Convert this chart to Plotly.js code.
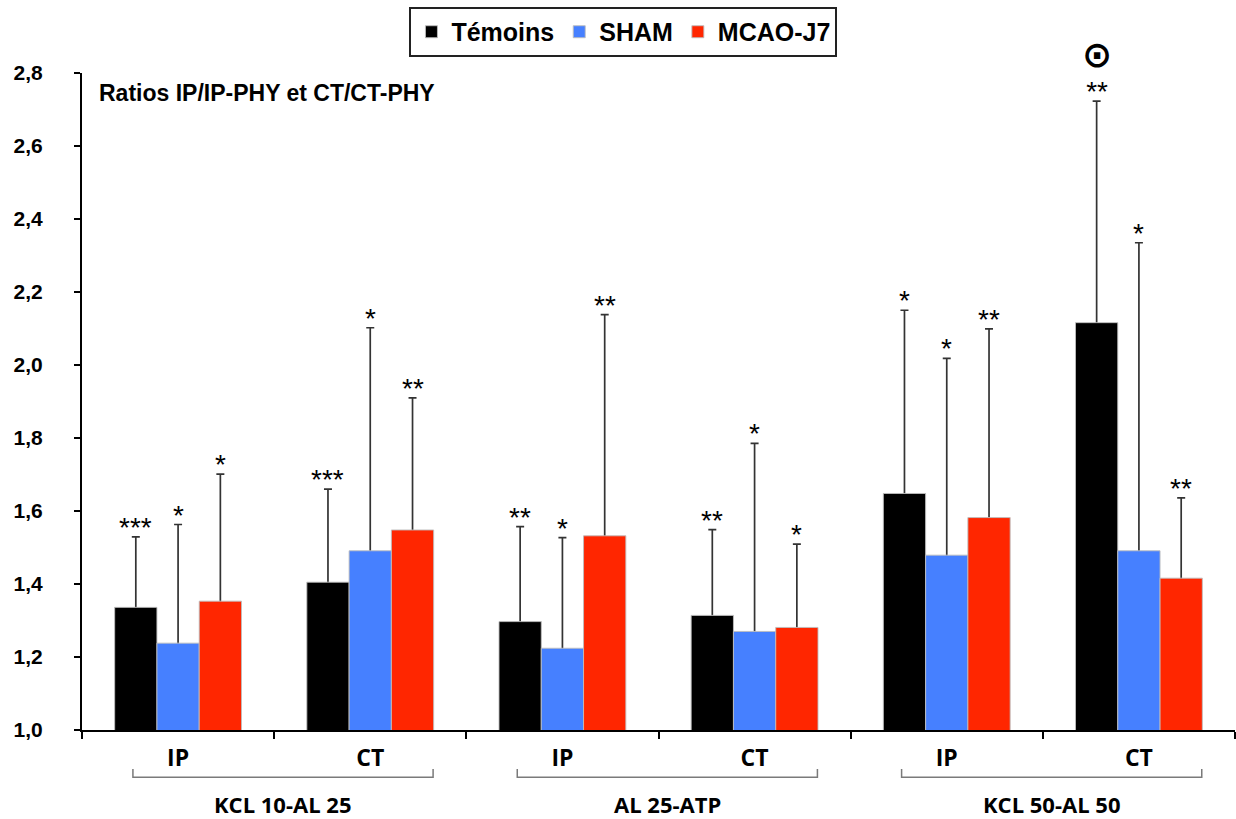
<!DOCTYPE html>
<html>
<head>
<meta charset="utf-8">
<script src="https://cdn.plot.ly/plotly-3.0.1.min.js"></script>
<style>html,body{margin:0;padding:0;background:#fff;}#chart{width:1236px;height:819px;}</style>
</head>
<body>
<div id="chart"></div>
<script>
// ---------- data ----------
const categories = ['KCL 10-AL 25 IP', 'KCL 10-AL 25 CT', 'AL 25-ATP IP', 'AL 25-ATP CT', 'KCL 50-AL 50 IP', 'KCL 50-AL 50 CT'];
const tickLabels = ['IP', 'CT', 'IP', 'CT', 'IP', 'CT'];
const groupLabels = ['KCL 10-AL 25', 'AL 25-ATP', 'KCL 50-AL 50'];
const seriesNames = ['Témoins', 'SHAM', 'MCAO-J7'];

const temoins = [1.336, 1.405, 1.297, 1.314, 1.648, 2.116];
const sham    = [1.238, 1.491, 1.224, 1.270, 1.479, 1.491];
const mcao    = [1.353, 1.548, 1.532, 1.281, 1.582, 1.416];

const temoinsSD = [0.193, 0.255, 0.260, 0.235, 0.502, 0.607];
const shamSD    = [0.325, 0.611, 0.303, 0.515, 0.539, 0.844];
const mcaoSD    = [0.348, 0.362, 0.606, 0.228, 0.517, 0.220];

const temoinsStars = ['***', '***', '**', '**', '*', '**'];
const shamStars    = ['*', '*', '*', '*', '*', '*'];
const mcaoStars    = ['*', '**', '**', '*', '**', '**'];

const specialMark = {series: 0, index: 5, text: '⊙'};
const chartTitle = 'Ratios IP/IP-PHY et CT/CT-PHY';

// ---------- styling ----------
const colors = ['#000000', '#4680FF', '#FF2600'];
const bargap = 0.34;
const slot = (1 - bargap) / 3;
const arial = 'Liberation Sans, Arial, sans-serif';
const calib = 'Open Sans, Noto Sans, sans-serif';

const values = [temoins, sham, mcao];
const sds = [temoinsSD, shamSD, mcaoSD];
const stars = [temoinsStars, shamStars, mcaoStars];

const traces = [];
// error bar carriers (drawn first so the opaque bars hide the bottom caps)
for (let k = 0; k < 3; k++) {
  traces.push({
    type: 'bar', x: categories, y: values[k], offsetgroup: String(k),
    marker: {color: 'rgba(0,0,0,0)', line: {width: 0}},
    error_y: {type: 'data', symmetric: false, array: sds[k],
              arrayminus: values[k].map(() => 0.02),
              color: '#333333', thickness: 1.7, width: 4},
    showlegend: false, hoverinfo: 'skip'
  });
}
for (let k = 0; k < 3; k++) {
  traces.push({
    type: 'bar', x: categories, y: values[k], name: seriesNames[k], offsetgroup: String(k),
    marker: {color: colors[k], line: {color: 'rgba(190,190,190,0.9)', width: 1}}
  });
}

const annotations = [];
for (let k = 0; k < 3; k++) {
  for (let i = 0; i < categories.length; i++) {
    const special = (k === specialMark.series && i === specialMark.index);
    let txt = stars[k][i];
    let size = 28;
    if (special) {
      txt = '<span style="font-family:DejaVu Sans;font-weight:bold;font-size:36px">' + specialMark.text +
            '</span><br><span style="font-size:28px">' + txt + '</span>';
      size = 26.5;
    }
    annotations.push({
      x: i + (k - 1) * slot, y: values[k][i] + sds[k][i], xref: 'x', yref: 'y',
      text: txt, showarrow: false, yanchor: 'bottom', yshift: -8,
      font: {family: arial, size: size, color: '#000'}
    });
  }
}
annotations.push({
  x: 0.013, y: 0.9696, xref: 'paper', yref: 'paper', xanchor: 'left', yanchor: 'middle',
  text: chartTitle, showarrow: false,
  font: {family: arial, size: 23, color: '#000', weight: 'bold'}
});

const shapes = [];
for (let g = 0; g < groupLabels.length; g++) {
  const x0 = 2 * g - 0.235, x1 = 2 * g + 1 + 0.327;
  shapes.push({type: 'path', xref: 'x', yref: 'paper',
    path: `M ${x0},-0.0594 L ${x0},-0.072 L ${x1},-0.072 L ${x1},-0.0594`,
    line: {color: '#7a7a7a', width: 1.5}});
  annotations.push({
    x: (x0 + x1) / 2, y: -0.1126, xref: 'x', yref: 'paper', yanchor: 'middle',
    text: groupLabels[g], showarrow: false,
    font: {family: calib, size: 22, color: '#000', weight: 'bold'}
  });
}

const layout = {
  width: 1236, height: 819,
  margin: {l: 82, r: 1, t: 73, b: 89},
  paper_bgcolor: '#fff', plot_bgcolor: '#fff',
  separators: ',.',
  barmode: 'group', bargap: bargap, bargroupgap: 0,
  font: {family: arial, color: '#000'},
  showlegend: true,
  legend: {orientation: 'h', x: 0.4696, xanchor: 'center', y: 1.1005, yanchor: 'top',
           bordercolor: '#222', borderwidth: 2, bgcolor: '#fff',
           font: {family: arial, size: 25, color: '#000', weight: 'bold'},
           itemwidth: 30, traceorder: 'normal'},
  xaxis: {type: 'category', range: [-0.5, 5.5], tickson: 'boundaries',
          tickmode: 'array', tickvals: categories, ticktext: tickLabels,
          ticks: 'outside', ticklen: 7, tickwidth: 2, tickcolor: '#000',
          showline: true, linewidth: 2, linecolor: '#000', showgrid: false, zeroline: false,
          ticklabelstandoff: 6,
          tickfont: {family: calib, size: 23, color: '#000', weight: 'bold'}},
  yaxis: {range: [1, 2.8], tick0: 1, dtick: 0.2, tickformat: '.1f',
          ticks: 'outside', ticklen: 6, tickwidth: 2, tickcolor: '#000',
          showline: true, linewidth: 2, linecolor: '#000', showgrid: false, zeroline: false,
          ticklabelstandoff: 27,
          tickfont: {family: arial, size: 21, color: '#000', weight: 'bold'}},
  annotations: annotations,
  shapes: shapes
};

Plotly.newPlot('chart', traces, layout, {displayModeBar: false, responsive: false});
</script>
</body>
</html>
